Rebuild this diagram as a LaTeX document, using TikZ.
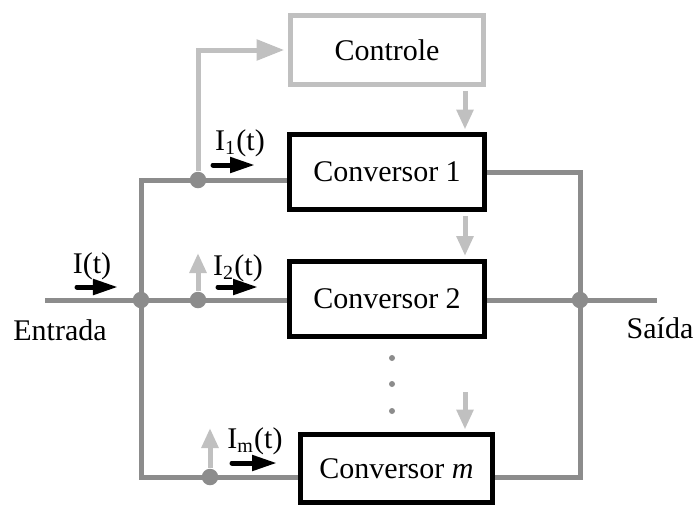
\documentclass[tikz,border=0pt]{standalone}
\usepackage{fontspec}
\setmainfont{Liberation Serif}
\usetikzlibrary{arrows.meta,backgrounds}
\definecolor{wiregray}{RGB}{140,140,140}
\definecolor{ctlgray}{RGB}{192,192,192}

\begin{document}
\begin{tikzpicture}[x=0.4pt,y=-0.4pt,
	font=\fontsize{12}{14}\selectfont,
	wire/.style={color=wiregray,line width=2pt},
	ctl/.style={color=ctlgray,line width=2pt,-{Triangle[length=8pt,width=6.5pt]}},
	flow/.style={line width=2pt,line cap=round,-{Triangle[length=10pt,width=6pt]}},
	conv/.style={draw,line width=2pt,minimum width=78pt,minimum height=30pt,fill=white},
	junc/.style={circle,fill=wiregray,inner sep=0pt,minimum size=6.6pt}]
	\useasboundingbox (0,0) rectangle (695,509);
	% blocos
	\node[conv,draw=ctlgray,minimum width=77.2pt,minimum height=27.6pt] (ctrl) at (387,50) {Controle};
	\node[conv] (conv1) at (387,172) {Conversor 1};
	\node[conv] (conv2) at (387,298.5) {Conversor 2};
	\node[conv,minimum width=76.8pt,minimum height=27.2pt] (convm) at (396.5,468.5) {Conversor \textit{m}};
	% nos
	\coordinate (in) at (45,300);
	\coordinate (out) at (657,300);
	\node[junc] (jin) at (141,300) {};
	\node[junc] (jout) at (580,300) {};
	\node[junc] (d1) at (198,180) {};
	\node[junc] (d2) at (198,300) {};
	\node[junc] (dm) at (210,477) {};
	% fios
	\begin{scope}[on background layer]
		\draw[wire] (in) -- (jin.center) -- (d2.center) -- (d2.center -| conv2.west);
		\draw[wire] (conv1.west |- d1.center) -- (d1.center) -| (jin.center) |- (dm.center) -- (dm.center -| convm.west);
		\draw[wire] (conv1.east) -| (jout.center) |- (convm.east |- dm.center);
		\draw[wire] (conv2.east |- jout.center) -- (out);
	\end{scope}
	% controle
	\coordinate (ax) at (465,0);
	\coordinate (mtop) at (465,392);
	\coordinate (u2) at (198,253);
	\coordinate (um) at (210,428);
	\draw[ctl,-{Triangle[length=11pt,width=8pt]},shorten >=1.5pt] (d1.north) |- (ctrl.west);
	\draw[ctl,shorten <=1.5pt,shorten >=1pt] (ctrl.south -| ax) -- (conv1.north -| ax);
	\draw[ctl,shorten <=1.5pt,shorten >=1pt] (conv1.south -| ax) -- (conv2.north -| ax);
	\draw[ctl,shorten >=1pt] (mtop) -- (convm.north -| mtop);
	\draw[ctl] (d2.north) -- (u2);
	\draw[ctl] (dm.north) -- (um);
	\foreach \y in {358,384,411}
		\fill[wiregray] (392,\y) circle (1.2pt);
	% correntes
	\draw[flow] (77,287) -- (118,287);
	\draw[flow] (213,165) -- (255,165);
	\draw[flow] (218,287) -- (258,287);
	\draw[flow] (232,463) -- (277,463);
	\node[anchor=base] (lin) at (92,273) {I(t)};
	\node[anchor=base] (l1) at (240,150) {I\textsubscript{1}(t)};
	\node[anchor=base] (l2) at (238,275) {I\textsubscript{2}(t)};
	\node[anchor=base] (lm) at (255,448) {I\textsubscript{m}(t)};
	\node[anchor=base] (lentrada) at (60,340) {Entrada};
	\node[anchor=base] (lsaida) at (660,338) {Saída};
\end{tikzpicture}
\end{document}
